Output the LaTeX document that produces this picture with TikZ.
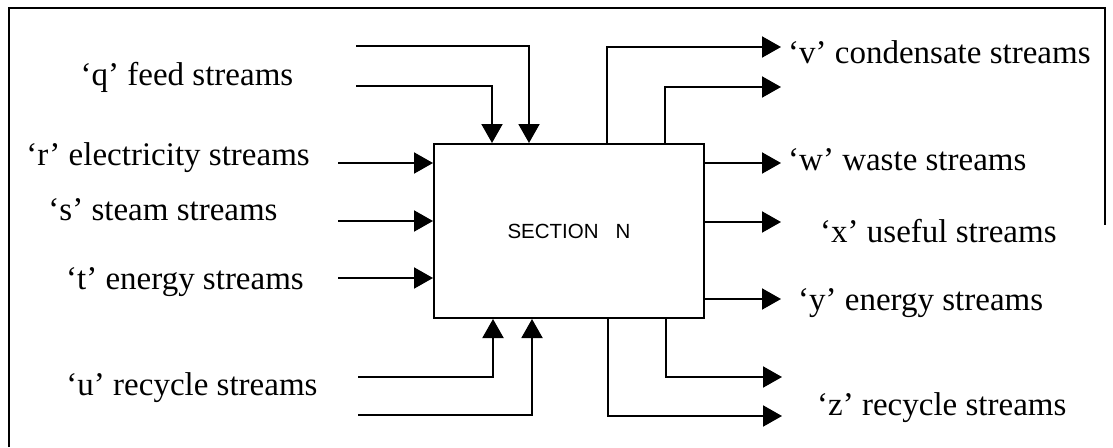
\documentclass[tikz,border=0pt]{standalone}
\usepackage{fontspec}
\setmainfont{Liberation Serif}
\newfontfamily\sectfont{Liberation Sans}
\usetikzlibrary{arrows.meta}
\begin{document}
\begin{tikzpicture}[x=1pt,y=-1pt,
  frame/.style={line width=1.6pt},
  arr/.style={line width=2pt,-{Triangle[length=19pt,width=21pt]}},
  lbl/.style={font=\fontsize{33}{38}\selectfont, inner sep=0pt},
  boxst/.style={draw, line width=2pt, minimum width=270pt, minimum height=174pt, inner sep=0pt, font=\sectfont\fontsize{20.5}{24}\selectfont}
]
\useasboundingbox (0,0) rectangle (1113,447);
\draw[frame] (9,447) -- (9,8) -- (1105,8) -- (1105,225);
\node[boxst] (box) at (569,231) {SECTION\ \ \ N};
% left inputs
\coordinate (r0) at (338,163);
\coordinate (s0) at (338,221);
\coordinate (t0) at (338,278);
\draw[arr] (r0) -- (r0 -| box.west);
\draw[arr] (s0) -- (s0 -| box.west);
\draw[arr] (t0) -- (t0 -| box.west);
% top inputs
\coordinate (q1) at (356,46);
\coordinate (q1t) at (529,46);
\coordinate (q2) at (356,86);
\coordinate (q2t) at (492,86);
\draw[arr] (q1) -- (q1t) -- (q1t |- box.north);
\draw[arr] (q2) -- (q2t) -- (q2t |- box.north);
% bottom inputs
\coordinate (u1) at (358,377);
\coordinate (u1t) at (493,377);
\coordinate (u2) at (358,415);
\coordinate (u2t) at (532,415);
\draw[arr] (u1) -- (u1t) -- (u1t |- box.south);
\draw[arr] (u2) -- (u2t) -- (u2t |- box.south);
% top outputs
\coordinate (v1) at (607,47);
\coordinate (v1e) at (781,47);
\coordinate (v2) at (665,87);
\coordinate (v2e) at (781,87);
\draw[arr] (v1 |- box.north) -- (v1) -- (v1e);
\draw[arr] (v2 |- box.north) -- (v2) -- (v2e);
% right outputs
\coordinate (we) at (781,163);
\coordinate (xe) at (781,222);
\coordinate (ye) at (781,299);
\draw[arr] (we -| box.east) -- (we);
\draw[arr] (xe -| box.east) -- (xe);
\draw[arr] (ye -| box.east) -- (ye);
% bottom outputs
\coordinate (z1) at (666,377);
\coordinate (z1e) at (782,377);
\coordinate (z2) at (608,416);
\coordinate (z2e) at (782,416);
\draw[arr] (z1 |- box.south) -- (z1) -- (z1e);
\draw[arr] (z2 |- box.south) -- (z2) -- (z2e);
% labels
\node[lbl] (lq) at (187,77) {‘q’ feed streams};
\node[lbl] (lr) at (168,158) {‘r’ electricity streams};
\node[lbl] (ls) at (163,210) {‘s’ steam streams};
\node[lbl] (lt) at (185,282) {‘t’ energy streams};
\node[lbl] (lu) at (192,388) {‘u’ recycle streams};
\node[lbl,anchor=west] (lv) at (788,52) {‘v’ condensate streams};
\node[lbl,anchor=west] (lw) at (788,160) {‘w’ waste streams};
\node[lbl,anchor=west] (lx) at (820,231) {‘x’ useful streams};
\node[lbl,anchor=west] (ly) at (798,303) {‘y’ energy streams};
\node[lbl,anchor=west] (lz) at (817,408) {‘z’ recycle streams};
\end{tikzpicture}
\end{document}
